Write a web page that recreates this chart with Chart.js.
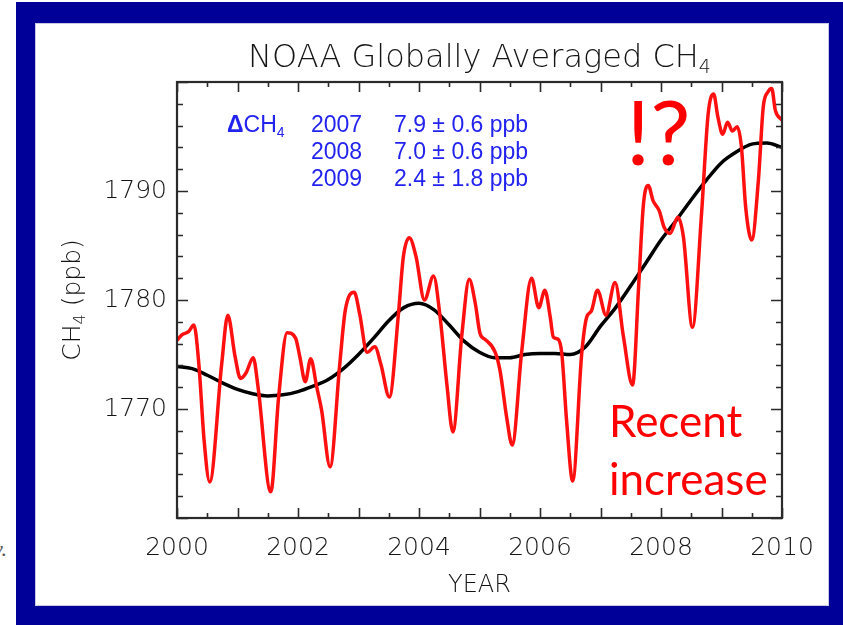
<!DOCTYPE html>
<html>
<head>
<meta charset="utf-8">
<script src="https://cdn.jsdelivr.net/npm/chart.js@4.4.1/dist/chart.umd.min.js"></script>
<style>
  html, body { margin: 0; padding: 0; background: #fff; width: 843px; height: 625px; overflow: hidden; }
  #frame { position: absolute; left: 16px; top: 2px; width: 827px; height: 623px; background: #000099; }
  #panel { position: absolute; left: 35px; top: 23px; width: 794px; height: 583px; background: #fff; box-shadow: inset 0 0 0 1px #c9c9e6; }
  #stray { position: absolute; left: -7px; top: 536px; font: italic 22px "Liberation Serif"; color: #555; }
  canvas { position: absolute; left: 0; top: 0; }
</style>
</head>
<body>
<div id="frame"></div>
<div id="panel"></div>
<div id="stray">y.</div>
<canvas id="c" width="843" height="625"></canvas>
<script>
// Globally averaged CH4 (ppb): smoothed monthly values and the long-term trend
const years = [
  2000.00, 2000.08, 2000.19, 2000.28, 2000.36, 2000.45, 2000.54, 2000.74, 2000.84, 2000.96,
  2001.05, 2001.14, 2001.26, 2001.34, 2001.55, 2001.68, 2001.82, 2001.96, 2002.03, 2002.12,
  2002.21, 2002.31, 2002.39, 2002.53, 2002.69, 2002.78, 2002.93, 2003.02, 2003.14, 2003.27,
  2003.37, 2003.51, 2003.66, 2003.74, 2003.84, 2003.95, 2004.09, 2004.24, 2004.35, 2004.46,
  2004.56, 2004.71, 2004.83, 2004.93, 2005.01, 2005.09, 2005.26, 2005.34, 2005.45, 2005.54,
  2005.70, 2005.86, 2005.98, 2006.08, 2006.17, 2006.22, 2006.30, 2006.36, 2006.44, 2006.54,
  2006.69, 2006.77, 2006.85, 2006.95, 2007.09, 2007.24, 2007.38, 2007.53, 2007.63, 2007.71,
  2007.79, 2007.87, 2007.97, 2008.05, 2008.15, 2008.28, 2008.37, 2008.52, 2008.67, 2008.78,
  2008.87, 2008.94, 2009.02, 2009.10, 2009.18, 2009.26, 2009.33, 2009.40, 2009.50, 2009.61,
  2009.69, 2009.77, 2009.83, 2009.89, 2010.00
];
const ch4 = [
  1776.3, 1776.8, 1777.1, 1777.7, 1774.2, 1767.0, 1763.3, 1774.2, 1778.6, 1774.8,
  1772.8, 1773.3, 1774.7, 1772.0, 1762.4, 1771.1, 1777.0, 1776.5, 1774.8, 1772.5,
  1774.6, 1772.0, 1769.9, 1764.7, 1774.1, 1779.0, 1780.7, 1778.7, 1775.2, 1775.7,
  1774.1, 1771.1, 1778.7, 1783.9, 1785.7, 1784.0, 1780.0, 1782.2, 1778.4, 1772.3,
  1767.9, 1776.9, 1781.9, 1779.7, 1776.9, 1776.4, 1775.2, 1773.5, 1769.2, 1766.7,
  1775.4, 1782.0, 1779.3, 1780.9, 1778.4, 1776.6, 1776.4, 1775.1, 1768.9, 1763.4,
  1775.1, 1778.4, 1779.0, 1780.9, 1778.6, 1781.6, 1776.6, 1772.2, 1781.2, 1788.8,
  1790.5, 1789.1, 1788.2, 1786.7, 1786.1, 1787.6, 1785.8, 1777.5, 1787.9, 1797.1,
  1798.9, 1796.8, 1795.2, 1796.3, 1795.5, 1795.9, 1794.0, 1788.5, 1785.5, 1791.0,
  1797.7, 1799.1, 1799.4, 1797.4, 1796.5
];
const trendYears = [
  2000.00, 2000.25, 2000.50, 2000.75, 2001.00, 2001.25, 2001.50, 2001.75, 2002.00, 2002.25,
  2002.50, 2002.75, 2003.00, 2003.25, 2003.50, 2003.75, 2004.00, 2004.25, 2004.50, 2004.75,
  2005.00, 2005.25, 2005.50, 2005.75, 2006.00, 2006.25, 2006.50, 2006.75, 2007.00, 2007.25,
  2007.50, 2007.75, 2008.00, 2008.25, 2008.50, 2008.75, 2009.00, 2009.25, 2009.50, 2009.75,
  2010.00
];
const trendCh4 = [
  1773.9, 1773.7, 1773.1, 1772.4, 1771.8, 1771.4, 1771.2, 1771.3, 1771.6, 1772.1,
  1772.7, 1773.7, 1775.0, 1776.5, 1778.1, 1779.3, 1779.7, 1779.1, 1777.7, 1776.2,
  1775.2, 1774.7, 1774.7, 1775.0, 1775.1, 1775.1, 1775.0, 1775.7, 1777.6, 1779.3,
  1781.3, 1783.4, 1785.5, 1787.3, 1789.2, 1791.0, 1792.6, 1793.6, 1794.3, 1794.4,
  1794.0
];
const xTickLabels = [2000, 2002, 2004, 2006, 2008, 2010];
const yTickLabels = [1770, 1780, 1790];
const growthYears = ['2007', '2008', '2009'];
const growthRates = ['7.9 \u00b1 0.6 ppb', '7.0 \u00b1 0.6 ppb', '2.4 \u00b1 1.8 ppb'];

const AXIS_FONT = '"DejaVu Sans", sans-serif';
const TEXT_GREY = '#151515';

// Draws a run of text pieces (plain and subscript) starting at x on baseline y
function drawRuns(ctx, runs, x, y) {
  let cx = x;
  for (const r of runs) {
    ctx.font = r.font;
    ctx.fillText(r.text, cx, y + (r.dy || 0));
    cx += ctx.measureText(r.text).width;
  }
  return cx;
}
function runsWidth(ctx, runs) {
  let w = 0;
  for (const r of runs) { ctx.font = r.font; w += ctx.measureText(r.text).width; }
  return w;
}

// Boxed axes with inward-pointing major and minor ticks on all four sides
const frameTicks = {
  id: 'frameTicks',
  afterDatasetsDraw(chart) {
    const { ctx, chartArea: a, scales: { x, y } } = chart;
    ctx.save();
    ctx.strokeStyle = '#2a2a2a';
    ctx.lineWidth = 1.6;
    ctx.beginPath();
    for (let i = 0; i <= 20; i++) {
      const v = x.min + i * 0.5;
      const px = Math.round(x.getPixelForValue(v)) + 0.5;
      const len = i % 2 === 0 ? 10 : 5;
      ctx.moveTo(px, a.bottom); ctx.lineTo(px, a.bottom - len);
      ctx.moveTo(px, a.top); ctx.lineTo(px, a.top + len);
    }
    for (let v = y.min; v <= y.max; v += 2) {
      const py = Math.round(y.getPixelForValue(v)) + 0.5;
      const len = v % 10 === 0 ? 11 : 6;
      ctx.moveTo(a.left, py); ctx.lineTo(a.left + len, py);
      ctx.moveTo(a.right, py); ctx.lineTo(a.right - len, py);
    }
    ctx.stroke();
    ctx.lineWidth = 2.2;
    ctx.strokeRect(a.left, a.top, a.right - a.left, a.bottom - a.top);
    ctx.restore();
  }
};

// Title, rotated axis title and the text annotations
const annotations = {
  id: 'annotations',
  afterDraw(chart) {
    const { ctx, chartArea: a } = chart;
    ctx.save();
    ctx.textBaseline = 'alphabetic';
    ctx.textAlign = 'left';

    // chart title with subscript
    ctx.fillStyle = TEXT_GREY;
    const title = [
      { text: 'NOAA Globally Averaged CH', font: '200 32px ' + AXIS_FONT },
      { text: '4', font: '200 19px ' + AXIS_FONT, dy: 6 }
    ];
    const tw = runsWidth(ctx, title);
    drawRuns(ctx, title, (a.left + a.right) / 2 - tw / 2, 67);

    // y axis title, rotated
    const ytitle = [
      { text: 'CH', font: '200 25px ' + AXIS_FONT },
      { text: '4', font: '200 16px ' + AXIS_FONT, dy: 5 },
      { text: ' (ppb)', font: '200 25px ' + AXIS_FONT }
    ];
    const yw = runsWidth(ctx, ytitle);
    ctx.save();
    ctx.translate(80, (a.top + a.bottom) / 2);
    ctx.rotate(-Math.PI / 2);
    drawRuns(ctx, ytitle, -yw / 2, 0);
    ctx.restore();

    // growth-rate table
    ctx.fillStyle = '#2323f0';
    const sans = '"Liberation Sans", Arial, sans-serif';
    drawRuns(ctx, [
      { text: '\u0394', font: 'bold 23px ' + sans },
      { text: 'CH', font: '23px ' + sans },
      { text: '4', font: '14px ' + sans, dy: 5 }
    ], 227, 132);
    ctx.font = '23px ' + sans;
    growthYears.forEach((yr, i) => {
      const by = 132 + i * 27;
      ctx.fillText(yr, 311, by);
      ctx.fillText(growthRates[i], 394, by);
    });

    // red remarks
    ctx.fillStyle = '#ff0000';
    ctx.font = '90px Lato, sans-serif';
    ctx.fillText('!?', 626, 165);
    ctx.font = '44px Lato, sans-serif';
    ctx.fillText('Recent', 609, 437);
    ctx.fillText('increase', 609, 495);
    ctx.restore();
  }
};

new Chart(document.getElementById('c'), {
  type: 'line',
  data: {
    datasets: [
      {
        label: 'CH4',
        data: years.map((t, i) => ({ x: t, y: ch4[i] })),
        borderColor: '#ff1010',
        borderWidth: 3.5,
        pointRadius: 0,
        cubicInterpolationMode: 'monotone',
        fill: false,
        order: 0
      },
      {
        label: 'Trend',
        data: trendYears.map((t, i) => ({ x: t, y: trendCh4[i] })),
        borderColor: '#000000',
        borderWidth: 3.5,
        pointRadius: 0,
        cubicInterpolationMode: 'monotone',
        fill: false,
        order: 1
      }
    ]
  },
  options: {
    responsive: false,
    animation: false,
    devicePixelRatio: 1,
    layout: { padding: { left: 0, right: 61, top: 82, bottom: 25 } },
    plugins: { legend: { display: false }, tooltip: { enabled: false }, title: { display: false } },
    scales: {
      x: {
        type: 'linear',
        min: 2000,
        max: 2010,
        afterBuildTicks: s => { s.ticks = xTickLabels.map(v => ({ value: v })); },
        afterFit: s => { s.height = 82; },
        grid: { display: false, drawTicks: false },
        border: { display: false },
        ticks: {
          padding: 15,
          color: TEXT_GREY,
          font: { family: 'DejaVu Sans', size: 25, weight: 200 },
          maxRotation: 0,
          callback: v => String(v)
        },
        title: {
          display: true,
          text: 'YEAR',
          color: TEXT_GREY,
          font: { family: 'DejaVu Sans', size: 24, weight: 200 },
          padding: { top: 6, bottom: 0 }
        }
      },
      y: {
        type: 'linear',
        min: 1760,
        max: 1800,
        afterBuildTicks: s => { s.ticks = yTickLabels.map(v => ({ value: v })); },
        afterFit: s => { s.width = 177; },
        grid: { display: false, drawTicks: false },
        border: { display: false },
        ticks: {
          padding: 10,
          color: TEXT_GREY,
          font: { family: 'DejaVu Sans', size: 25, weight: 200 },
          callback: v => String(v)
        }
      }
    }
  },
  plugins: [frameTicks, annotations]
});
</script>
</body>
</html>
